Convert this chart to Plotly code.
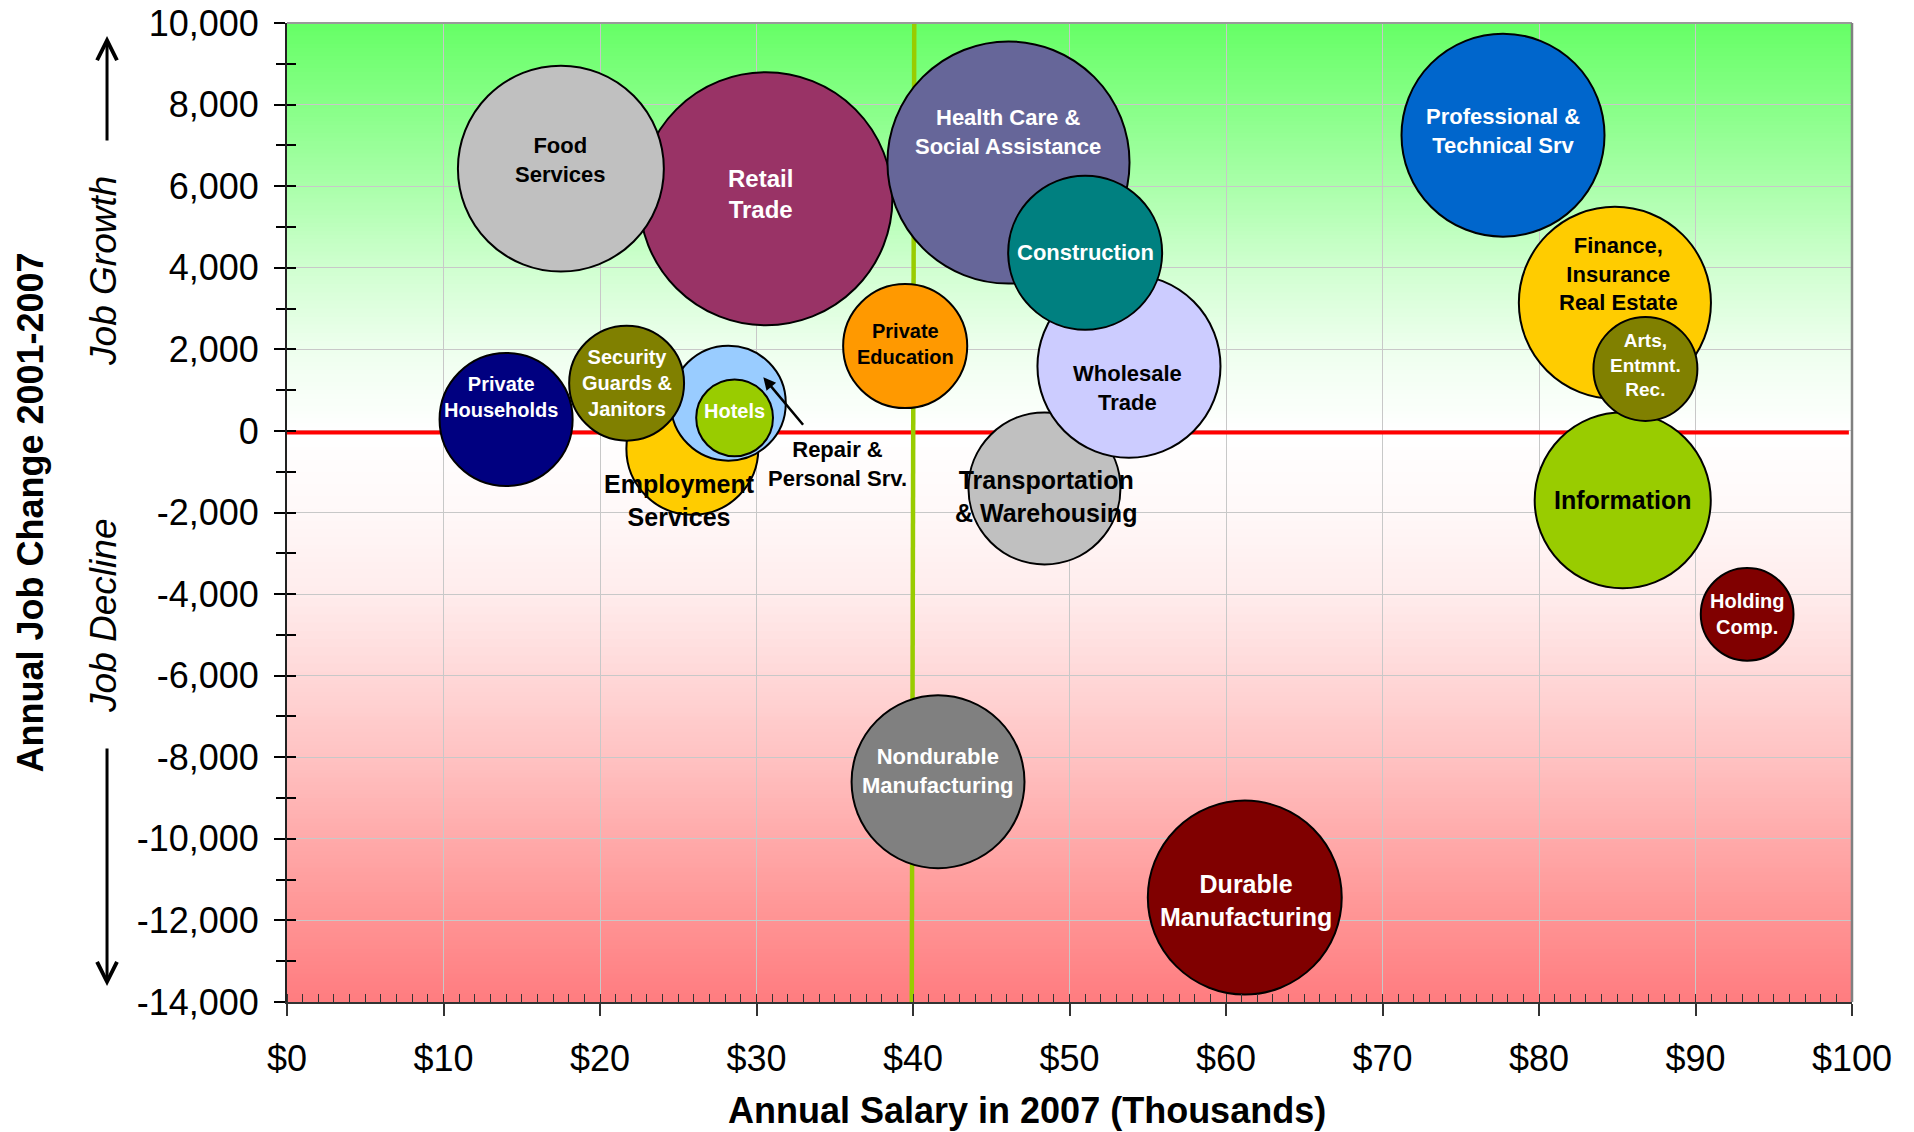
import plotly.graph_objects as go

# ---------------- data (drawing order: first = bottom) ----------------
categories = [
    "Retail Trade", "Food Services", "Health Care & Social Assistance",
    "Transportation & Warehousing", "Wholesale Trade", "Construction",
    "Private Education", "Professional & Technical Srv",
    "Finance, Insurance Real Estate", "Information", "Arts, Entmnt. Rec.",
    "Holding Comp.", "Employment Services", "Repair & Personal Srv.",
    "Security Guards & Janitors", "Hotels", "Private Households",
    "Nondurable Manufacturing", "Durable Manufacturing",
]
salary_k = [30.6, 17.5, 46.1, 48.4, 53.8, 51.0, 39.5, 77.7, 84.85, 85.35,
            86.8, 93.3, 25.9, 28.2, 21.7, 28.6, 14.0, 41.6, 61.2]
job_change = [5690, 6430, 6580, -1410, 1585, 4370, 2080, 7250, 3140, -1700,
              1520, -4495, -440, 680, 1170, 320, 280, -8600, -11440]
bubble_size = [640, 424, 586, 231, 335, 237, 154, 412, 369, 310,
               108, 86, 174, 132, 132, 59, 177, 299, 376]
labels = [
    "Retail<br>Trade", "Food<br>Services", "Health Care &<br>Social Assistance",
    "Transportation<br>& Warehousing", "Wholesale<br>Trade", "Construction",
    "Private<br>Education", "Professional &<br>Technical Srv",
    "Finance,<br>Insurance<br>Real Estate", "Information", "Arts,<br>Entmnt.<br>Rec.",
    "Holding<br>Comp.", "Employment<br>Services", "Repair &<br>Personal Srv.",
    "Security<br>Guards &<br>Janitors", "Hotels", "Private<br>Households",
    "Nondurable<br>Manufacturing", "Durable<br>Manufacturing",
]
x_tick_vals = [0, 10, 20, 30, 40, 50, 60, 70, 80, 90, 100]
x_tick_labels = ["$0", "$10", "$20", "$30", "$40", "$50", "$60", "$70", "$80", "$90", "$100"]
y_tick_vals = [-14000, -12000, -10000, -8000, -6000, -4000, -2000, 0, 2000, 4000, 6000, 8000, 10000]
y_tick_labels = ["-14,000", "-12,000", "-10,000", "-8,000", "-6,000", "-4,000", "-2,000",
                 "0", "2,000", "4,000", "6,000", "8,000", "10,000"]

# ---------------- styles ----------------
bubble_colors = ["#993366", "#C0C0C0", "#666699", "#C0C0C0", "#CCCCFF", "#008080",
                 "#FF9900", "#0066CC", "#FFCC00", "#99CC00", "#808000", "#800000",
                 "#FFCC00", "#99CCFF", "#808000", "#99CC00", "#000080", "#808080", "#800000"]
label_colors = ["white", "black", "white", "black", "black", "white", "black", "white",
                "black", "black", "white", "white", "black", "black", "white", "white",
                "white", "white", "white"]
label_font = [24, 22, 22, 25, 22, 22, 20, 22, 22, 25, 19, 20, 25, 22, 20, 20, 20, 22, 25]
label_dx = [-5, 0, 0, 2, -1, 0, 0, 0, 4, 0, 0, 0, -13, 109, 0, 0, -5, 0, 1]
label_dy = [5, 9, 31, -8, -22, 0, 2, 4, 29, 0, 4, 0, -52, -61, 0, 7, 22, 11, -3]

FONT = "Liberation Sans, Arial, sans-serif"
MAX_DIAM = 253
sizeref = 2.0 * max(bubble_size) / MAX_DIAM ** 2

XR = [0, 100]
YR = [-14000, 10000]

fig = go.Figure()

# reference lines (under bubbles)
fig.add_trace(go.Scatter(x=[0, 99.8], y=[-40, -40], mode="lines",
                         line=dict(color="#FF0000", width=4), hoverinfo="skip", showlegend=False))
fig.add_trace(go.Scatter(x=[40.08, 39.92], y=[10000, -14000], mode="lines",
                         line=dict(color="#99CC00", width=4.5), hoverinfo="skip", showlegend=False))

# bubbles
fig.add_trace(go.Scatter(
    x=salary_k, y=job_change, mode="markers", text=categories,
    marker=dict(size=bubble_size, sizemode="area", sizeref=sizeref,
                color=bubble_colors, opacity=1,
                line=dict(color="black", width=2)),
    hoverinfo="text", showlegend=False))

# invisible trace for the overlay axis carrying inside ticks
fig.add_trace(go.Scatter(x=[50], y=[0], yaxis="y2", mode="markers",
                         marker=dict(opacity=0), hoverinfo="skip", showlegend=False))

# ---------------- background gradient ----------------
stops = [
    (10000, (102, 255, 102)), (8000, (135, 255, 135)), (6000, (170, 255, 170)),
    (4000, (208, 255, 208)), (2000, (238, 255, 238)), (0, (255, 255, 255)),
    (-2000, (255, 248, 248)), (-4000, (255, 236, 236)), (-6000, (255, 216, 216)),
    (-8000, (255, 194, 194)), (-10000, (255, 170, 170)), (-12000, (255, 147, 147)),
    (-14000, (255, 124, 128)),
]
stops = sorted(stops)


def col_at(v):
    for (a, ca), (b, cb) in zip(stops[:-1], stops[1:]):
        if a <= v <= b:
            t = (v - a) / (b - a)
            c = [round(ca[i] + (cb[i] - ca[i]) * t) for i in range(3)]
            return "rgb(%d,%d,%d)" % tuple(c)
    return "rgb(255,255,255)"


shapes = []
step = 100
y = YR[0]
while y < YR[1]:
    shapes.append(dict(type="rect", xref="x", yref="y", x0=XR[0], x1=XR[1],
                       y0=y, y1=min(y + step * 1.3, YR[1]), layer="below",
                       line=dict(width=0), fillcolor=col_at(y + step / 2)))
    y += step

# frame: top and right borders
shapes.append(dict(type="line", xref="paper", yref="paper", x0=0, x1=1.0, y0=1, y1=1,
                   line=dict(color="#9A9A9A", width=2), layer="above"))
shapes.append(dict(type="line", xref="paper", yref="paper", x0=1, x1=1, y0=0, y1=1,
                   line=dict(color="#808080", width=2.5), layer="above"))

# ---------------- annotations ----------------
ann = []
for i in range(len(categories)):
    ann.append(dict(x=salary_k[i], y=job_change[i], xref="x", yref="y",
                    text="<b>%s</b>" % labels[i], showarrow=False,
                    xshift=label_dx[i], yshift=label_dy[i],
                    font=dict(family=FONT, size=label_font[i], color=label_colors[i]),
                    xanchor="center", yanchor="middle", align="center"))

# arrow pointing to Repair & Personal Srv. bubble
ri = categories.index("Repair & Personal Srv.")
ann.append(dict(x=salary_k[ri], y=job_change[ri], xref="x", yref="y", text="",
                xshift=35, yshift=26, showarrow=True, ax=41, ay=49,
                arrowhead=2, arrowsize=1, arrowwidth=2.5, arrowcolor="black"))

# axis titles
ann.append(dict(x=0.4728, y=-0.1113, xref="paper", yref="paper",
                text="<b>Annual Salary in 2007 (Thousands)</b>", showarrow=False,
                font=dict(family=FONT, size=36, color="black"),
                xanchor="center", yanchor="middle"))
ann.append(dict(x=-0.1642, y=0.5, xref="paper", yref="paper", textangle=-90,
                text="<b>Annual Job Change 2001-2007</b>", showarrow=False,
                font=dict(family=FONT, size=36, color="black"),
                xanchor="center", yanchor="middle"))
# growth / decline side notes
ann.append(dict(x=-0.1170, y=0.7467, xref="paper", yref="paper", textangle=-90,
                text="<i>Job Growth</i>", showarrow=False,
                font=dict(family=FONT, size=37, color="black"),
                xanchor="center", yanchor="middle"))
ann.append(dict(x=-0.1170, y=0.3943, xref="paper", yref="paper", textangle=-90,
                text="<i>Job Decline</i>", showarrow=False,
                font=dict(family=FONT, size=37, color="black"),
                xanchor="center", yanchor="middle"))
ann.append(dict(x=-0.1150, y=0.9867, xref="paper", yref="paper", text="",
                showarrow=True, ax=0, ay=106, arrowhead=5, arrowsize=1.3,
                arrowwidth=3, arrowcolor="black"))
ann.append(dict(x=-0.1150, y=0.0163, xref="paper", yref="paper", text="",
                showarrow=True, ax=0, ay=-239, arrowhead=5, arrowsize=1.3,
                arrowwidth=3, arrowcolor="black"))

fig.update_layout(
    width=1914, height=1132,
    margin=dict(l=287, r=62, t=23, b=130, autoexpand=False),
    paper_bgcolor="white", plot_bgcolor="white",
    font=dict(family=FONT, size=36, color="black"),
    showlegend=False,
    shapes=shapes, annotations=ann,
    xaxis=dict(range=XR, tickmode="array", tickvals=x_tick_vals, ticktext=x_tick_labels,
               ticks="outside", ticklen=12, tickwidth=1.5, tickcolor="#333333",
               showline=True, linecolor="#333333", linewidth=2,
               showgrid=True, gridcolor="#C8C8C8", gridwidth=1, zeroline=False,
               tickfont=dict(family=FONT, size=36, color="black"),
               ticklabelstandoff=12, automargin=False, fixedrange=True,
               minor=dict(tickmode="linear", tick0=0, dtick=1, ticks="inside", ticklen=8,
                          tickwidth=1, tickcolor="#333333", showgrid=False)),
    yaxis=dict(range=YR, tickmode="array", tickvals=y_tick_vals, ticktext=y_tick_labels,
               ticks="outside", ticklen=11, tickwidth=1.5, tickcolor="black",
               showline=True, linecolor="#222222", linewidth=2,
               showgrid=True, gridcolor="#C8C8C8", gridwidth=1, zeroline=False,
               tickfont=dict(family=FONT, size=36, color="black"),
               ticklabelstandoff=8, automargin=False, fixedrange=True,
               minor=dict(tickmode="linear", tick0=0, dtick=1000, ticks="outside", ticklen=9,
                          tickwidth=1.5, tickcolor="black", showgrid=False)),
    yaxis2=dict(range=YR, overlaying="y", side="left", tickmode="linear", tick0=0, dtick=1000,
                ticks="inside", ticklen=9, tickwidth=1.5, tickcolor="black",
                showticklabels=False, showgrid=False, zeroline=False, showline=False,
                fixedrange=True),
)

fig.write_html("out.html", include_plotlyjs=True, full_html=True,
               config={"displayModeBar": False},
               post_script="document.body.style.margin='0';document.body.style.overflow='hidden';")
